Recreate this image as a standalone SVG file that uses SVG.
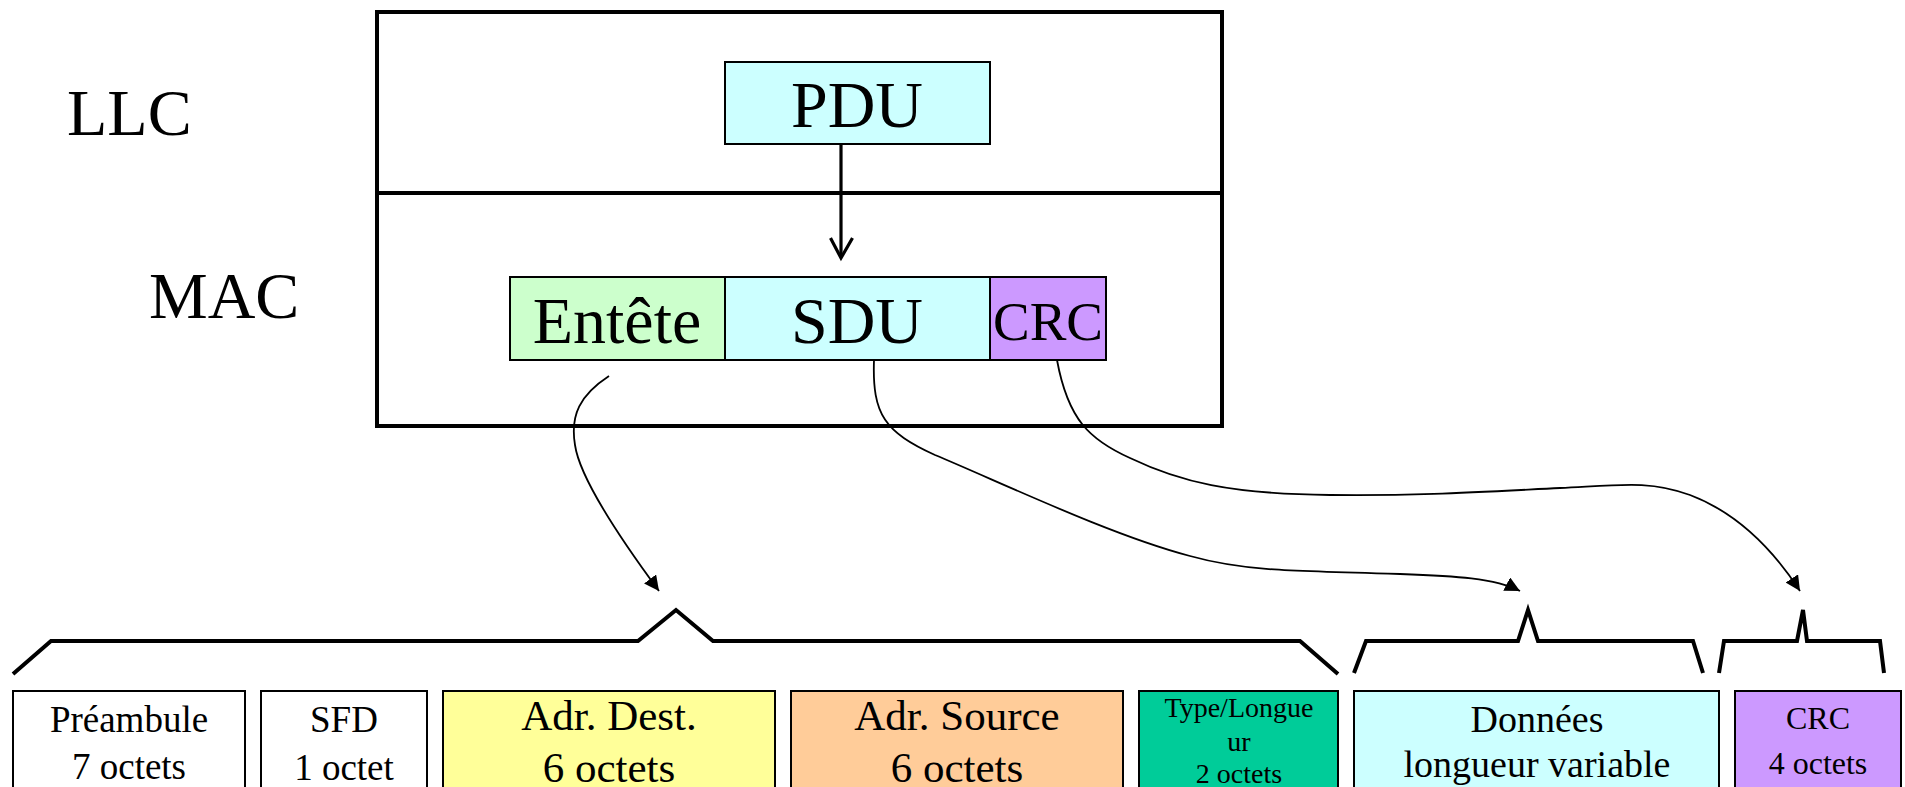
<svg xmlns="http://www.w3.org/2000/svg" width="1905" height="787" viewBox="0 0 1905 787">
<style>
text { font-family: "Liberation Serif", "Times New Roman", serif; fill: #000; text-anchor: middle; }
.big { font-size: 66px; }
.lbl { text-anchor: start; }
.box { stroke: #000; stroke-width: 2; }
.cyan { fill: #CCFFFF; }
.green { fill: #CCFFCC; }
.violet { fill: #CC99FF; }
.yellow { fill: #FFFF99; }
.orange { fill: #FFCC99; }
.teal { fill: #00CC99; }
.white { fill: #FFFFFF; }
.f37 { font-size: 37px; }
.f38 { font-size: 38px; }
.f43 { font-size: 43px; }
.f28 { font-size: 28px; }
.f32 { font-size: 32px; }
.brace { fill: none; stroke: #000; stroke-width: 4; stroke-linejoin: miter; }
.curve { fill: none; stroke: #000; stroke-width: 1.8; }
</style>
<defs>
<marker id="tri" markerUnits="userSpaceOnUse" markerWidth="16" markerHeight="15" refX="15" refY="7.5" orient="auto" viewBox="0 0 16 15">
<path d="M0,0 L15,7.5 L0,15 Z" fill="#000"/>
</marker>
</defs>
<rect x="0" y="0" width="1905" height="787" fill="#FFFFFF"/>

<g id="layers">
<rect x="377" y="12" width="845" height="414" fill="none" stroke="#000" stroke-width="4"/>
<line x1="377" y1="193" x2="1222" y2="193" stroke="#000" stroke-width="4"/>
<text class="big lbl" x="67" y="135">LLC</text>
<text class="big lbl" x="149" y="318">MAC</text>
</g>

<g id="pdu">
<rect class="box cyan" x="725" y="62" width="265" height="82"/>
<text class="big" x="857" y="127">PDU</text>
</g>

<g id="entete">
<rect class="box green" x="510" y="277" width="215" height="83"/>
<text class="big" x="617" y="343">Entête</text>
</g>

<g id="sdu">
<rect class="box cyan" x="725" y="277" width="265" height="83"/>
<text class="big" x="857" y="343">SDU</text>
</g>

<g id="crc-mac">
<rect class="box violet" x="990" y="277" width="116" height="83"/>
<text x="1048" y="339.5" style="font-size:55px">CRC</text>
</g>

<g id="preambule">
<rect class="box white" x="13" y="691" width="232" height="110"/>
<text class="f37" x="129" y="731.5">Préambule</text>
<text class="f37" x="129" y="778.5">7 octets</text>
</g>

<g id="sfd">
<rect class="box white" x="261" y="691" width="166" height="110"/>
<text class="f37" x="344" y="731.5">SFD</text>
<text class="f37" x="344" y="780">1 octet</text>
</g>

<g id="adr-dest">
<rect class="box yellow" x="443" y="691" width="332" height="110"/>
<text class="f43" x="609" y="730">Adr. Dest.</text>
<text class="f43" x="609" y="781.5">6 octets</text>
</g>

<g id="adr-source">
<rect class="box orange" x="791" y="691" width="332" height="110"/>
<text class="f43" x="957" y="730">Adr. Source</text>
<text class="f43" x="957" y="781.5">6 octets</text>
</g>

<g id="type-longueur">
<rect class="box teal" x="1139" y="691" width="199" height="110"/>
<text class="f28" x="1239" y="717">Type/Longue</text>
<text class="f28" x="1239" y="751">ur</text>
<text class="f28" x="1239" y="782.5">2 octets</text>
</g>

<g id="donnees">
<rect class="box cyan" x="1354" y="691" width="365" height="110"/>
<text class="f38" x="1537" y="731.5">Données</text>
<text class="f38" x="1537" y="776.5">longueur variable</text>
</g>

<g id="crc-trame">
<rect class="box violet" x="1735" y="691" width="166" height="110"/>
<text class="f32" x="1818" y="728.5">CRC</text>
<text class="f32" x="1818" y="773.5">4 octets</text>
</g>

<g id="braces">
<path class="brace" d="M13,674 L51,641 L638,641 L676,610 L713,641 L1300,641 L1338,674"/>
<path class="brace" d="M1354,673 L1366,641 L1518,641 L1528,610 L1538,641 L1693,641 L1703,673"/>
<path class="brace" d="M1719,673 L1724,641 L1797,641 L1803,610 L1807,641 L1880,641 L1884,673"/>
</g>

<g id="connectors">
<line x1="841" y1="144" x2="841" y2="257" stroke="#000" stroke-width="3.2"/>
<polyline points="830.5,238 841,258 852.5,238" fill="none" stroke="#000" stroke-width="3.2" stroke-linejoin="miter"/>
<path class="curve" marker-end="url(#tri)" d="M609,376 C580,395 570,415 575,445 C580,480 625,545 659,591"/>
<path class="curve" marker-end="url(#tri)" d="M874,360 C872,415 885,432 935,455 C1000,482 1110,535 1190,556 C1240,570 1280,571 1400,574 C1455,576 1495,578 1520,591"/>
<path class="curve" marker-end="url(#tri)" d="M1057,360 C1068,420 1090,440 1130,458 C1180,482 1230,494 1330,495 C1420,496 1480,492 1560,488 C1620,485 1650,480 1690,495 C1735,512 1770,545 1800,591"/>
</g>
</svg>
